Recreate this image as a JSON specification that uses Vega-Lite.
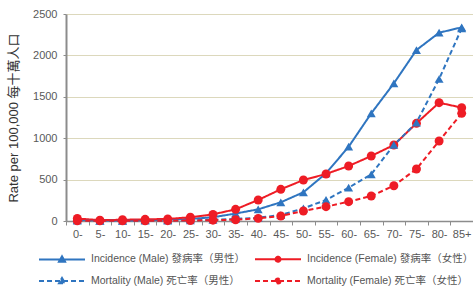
{
  "$schema": "https://vega.github.io/schema/vega-lite/v6.json",
  "width": 407,
  "height": 207,
  "autosize": "none",
  "padding": {"left": 66, "top": 14, "right": 0, "bottom": 65},
  "background": "white",
  "config": {
    "font": "Liberation Sans, Noto Sans CJK TC",
    "view": {"stroke": null},
    "axis": {"labelFont": "Liberation Sans", "labelColor": "#595959", "labelFontSize": 11}
  },
  "data": {"values": [
    {"age":"0-","series":"Incidence (Male) 發病率（男性）","rate":15},
    {"age":"5-","series":"Incidence (Male) 發病率（男性）","rate":5},
    {"age":"10-","series":"Incidence (Male) 發病率（男性）","rate":5},
    {"age":"15-","series":"Incidence (Male) 發病率（男性）","rate":10},
    {"age":"20-","series":"Incidence (Male) 發病率（男性）","rate":15},
    {"age":"25-","series":"Incidence (Male) 發病率（男性）","rate":25},
    {"age":"30-","series":"Incidence (Male) 發病率（男性）","rate":45},
    {"age":"35-","series":"Incidence (Male) 發病率（男性）","rate":90},
    {"age":"40-","series":"Incidence (Male) 發病率（男性）","rate":141},
    {"age":"45-","series":"Incidence (Male) 發病率（男性）","rate":226},
    {"age":"50-","series":"Incidence (Male) 發病率（男性）","rate":347},
    {"age":"55-","series":"Incidence (Male) 發病率（男性）","rate":576},
    {"age":"60-","series":"Incidence (Male) 發病率（男性）","rate":897},
    {"age":"65-","series":"Incidence (Male) 發病率（男性）","rate":1300},
    {"age":"70-","series":"Incidence (Male) 發病率（男性）","rate":1663},
    {"age":"75-","series":"Incidence (Male) 發病率（男性）","rate":2065},
    {"age":"80-","series":"Incidence (Male) 發病率（男性）","rate":2274},
    {"age":"85+","series":"Incidence (Male) 發病率（男性）","rate":2339},
    {"age":"0-","series":"Incidence (Female) 發病率（女性）","rate":30},
    {"age":"5-","series":"Incidence (Female) 發病率（女性）","rate":10},
    {"age":"10-","series":"Incidence (Female) 發病率（女性）","rate":15},
    {"age":"15-","series":"Incidence (Female) 發病率（女性）","rate":20},
    {"age":"20-","series":"Incidence (Female) 發病率（女性）","rate":25},
    {"age":"25-","series":"Incidence (Female) 發病率（女性）","rate":45},
    {"age":"30-","series":"Incidence (Female) 發病率（女性）","rate":80},
    {"age":"35-","series":"Incidence (Female) 發病率（女性）","rate":141},
    {"age":"40-","series":"Incidence (Female) 發病率（女性）","rate":254},
    {"age":"45-","series":"Incidence (Female) 發病率（女性）","rate":383},
    {"age":"50-","series":"Incidence (Female) 發病率（女性）","rate":495},
    {"age":"55-","series":"Incidence (Female) 發病率（女性）","rate":568},
    {"age":"60-","series":"Incidence (Female) 發病率（女性）","rate":664},
    {"age":"65-","series":"Incidence (Female) 發病率（女性）","rate":785},
    {"age":"70-","series":"Incidence (Female) 發病率（女性）","rate":918},
    {"age":"75-","series":"Incidence (Female) 發病率（女性）","rate":1180},
    {"age":"80-","series":"Incidence (Female) 發病率（女性）","rate":1429},
    {"age":"85+","series":"Incidence (Female) 發病率（女性）","rate":1369},
    {"age":"0-","series":"Mortality (Male) 死亡率（男性）","rate":3},
    {"age":"5-","series":"Mortality (Male) 死亡率（男性）","rate":2},
    {"age":"10-","series":"Mortality (Male) 死亡率（男性）","rate":2},
    {"age":"15-","series":"Mortality (Male) 死亡率（男性）","rate":3},
    {"age":"20-","series":"Mortality (Male) 死亡率（男性）","rate":5},
    {"age":"25-","series":"Mortality (Male) 死亡率（男性）","rate":8},
    {"age":"30-","series":"Mortality (Male) 死亡率（男性）","rate":15},
    {"age":"35-","series":"Mortality (Male) 死亡率（男性）","rate":25},
    {"age":"40-","series":"Mortality (Male) 死亡率（男性）","rate":40},
    {"age":"45-","series":"Mortality (Male) 死亡率（男性）","rate":72},
    {"age":"50-","series":"Mortality (Male) 死亡率（男性）","rate":153},
    {"age":"55-","series":"Mortality (Male) 死亡率（男性）","rate":254},
    {"age":"60-","series":"Mortality (Male) 死亡率（男性）","rate":402},
    {"age":"65-","series":"Mortality (Male) 死亡率（男性）","rate":564},
    {"age":"70-","series":"Mortality (Male) 死亡率（男性）","rate":918},
    {"age":"75-","series":"Mortality (Male) 死亡率（男性）","rate":1188},
    {"age":"80-","series":"Mortality (Male) 死亡率（男性）","rate":1715},
    {"age":"85+","series":"Mortality (Male) 死亡率（男性）","rate":2327},
    {"age":"0-","series":"Mortality (Female) 死亡率（女性）","rate":3},
    {"age":"5-","series":"Mortality (Female) 死亡率（女性）","rate":2},
    {"age":"10-","series":"Mortality (Female) 死亡率（女性）","rate":2},
    {"age":"15-","series":"Mortality (Female) 死亡率（女性）","rate":3},
    {"age":"20-","series":"Mortality (Female) 死亡率（女性）","rate":4},
    {"age":"25-","series":"Mortality (Female) 死亡率（女性）","rate":6},
    {"age":"30-","series":"Mortality (Female) 死亡率（女性）","rate":10},
    {"age":"35-","series":"Mortality (Female) 死亡率（女性）","rate":15},
    {"age":"40-","series":"Mortality (Female) 死亡率（女性）","rate":32},
    {"age":"45-","series":"Mortality (Female) 死亡率（女性）","rate":60},
    {"age":"50-","series":"Mortality (Female) 死亡率（女性）","rate":121},
    {"age":"55-","series":"Mortality (Female) 死亡率（女性）","rate":173},
    {"age":"60-","series":"Mortality (Female) 死亡率（女性）","rate":233},
    {"age":"65-","series":"Mortality (Female) 死亡率（女性）","rate":302},
    {"age":"70-","series":"Mortality (Female) 死亡率（女性）","rate":426},
    {"age":"75-","series":"Mortality (Female) 死亡率（女性）","rate":628},
    {"age":"80-","series":"Mortality (Female) 死亡率（女性）","rate":966},
    {"age":"85+","series":"Mortality (Female) 死亡率（女性）","rate":1300}
  ]},
  "encoding": {
    "x": {
      "field": "age", "type": "ordinal", "sort": null, "bandPosition": 0.5,
      "scale": {"type": "band", "paddingInner": 0, "paddingOuter": 0},
      "axis": {"title": null, "labelAngle": 0, "tickBand": "extent", "domainColor": "#8c8c8c", "domainWidth": 1.5, "tickColor": "#8c8c8c", "tickSize": 4, "labelPadding": 3, "grid": false}
    },
    "y": {
      "field": "rate", "type": "quantitative",
      "scale": {"domain": [0, 2500], "nice": false},
      "axis": {"values": [0, 500, 1000, 1500, 2000, 2500], "format": "d", "title": "Rate per 100,000 每十萬人口", "titleFontSize": 13, "titleFontWeight": "normal", "titleColor": "#333333", "titlePadding": 12, "gridColor": "#dcd8bc", "gridWidth": 1.2, "domainColor": "#8c8c8c", "domainWidth": 2, "tickColor": "#8c8c8c", "tickSize": 3, "labelPadding": 6}
    },
    "color": {
      "field": "series", "type": "nominal",
      "scale": {"domain": ["Incidence (Male) 發病率（男性）", "Incidence (Female) 發病率（女性）", "Mortality (Male) 死亡率（男性）", "Mortality (Female) 死亡率（女性）"], "range": ["#2f75c0", "#ee1c25", "#2f75c0", "#ee1c25"]},
      "legend": {
        "title": null, "orient": "none", "legendX": -28, "legendY": 239, "columns": 2, "direction": "horizontal", "padding": 0,
        "labelFontSize": 10.5, "labelColor": "#555555", "labelLimit": 300,
        "symbolSize": 100, "symbolStrokeWidth": 2, "labelOffset": 41, "columnPadding": 5, "rowPadding": 8,
        "symbolType": "M-1,0H8.2",
        "encode": {"symbols": {"update": {
          "shape": {"signal": "indexof(datum.value, 'Male') >= 0 ? 'M-1,0H8.2M3.6,-0.6L4.2,0.45H3.0Z' : 'M-1,0H8.2M4.1,0A0.5,0.5 0 1,1 3.1,0A0.5,0.5 0 1,1 4.1,0Z'"},
          "fill": {"signal": "indexof(datum.value, 'Incidence (Male)') >= 0 || indexof(datum.value, 'Mortality (Male)') >= 0 ? '#2f75c0' : '#ee1c25'"},
          "stroke": {"signal": "indexof(datum.value, 'Incidence (Male)') >= 0 || indexof(datum.value, 'Mortality (Male)') >= 0 ? '#2f75c0' : '#ee1c25'"},
          "strokeDash": {"signal": "indexof(datum.value, 'Mortality') >= 0 ? [4, 3] : [1, 0]"}
        }}}
      }
    }
  },
  "layer": [
    {
      "mark": {"type": "line", "strokeWidth": 2},
      "encoding": {
        "strokeDash": {"field": "series", "type": "nominal", "legend": null,
          "scale": {"domain": ["Incidence (Male) 發病率（男性）", "Incidence (Female) 發病率（女性）", "Mortality (Male) 死亡率（男性）", "Mortality (Female) 死亡率（女性）"], "range": [[1, 0], [1, 0], [5, 3], [5, 3]]}}
      }
    },
    {
      "mark": {"type": "point", "filled": true, "opacity": 1, "size": 80},
      "encoding": {
        "shape": {"condition": {"test": "indexof(datum.series, 'Male') >= 0", "value": "triangle-up"}, "value": "circle"}
      }
    }
  ]
}
